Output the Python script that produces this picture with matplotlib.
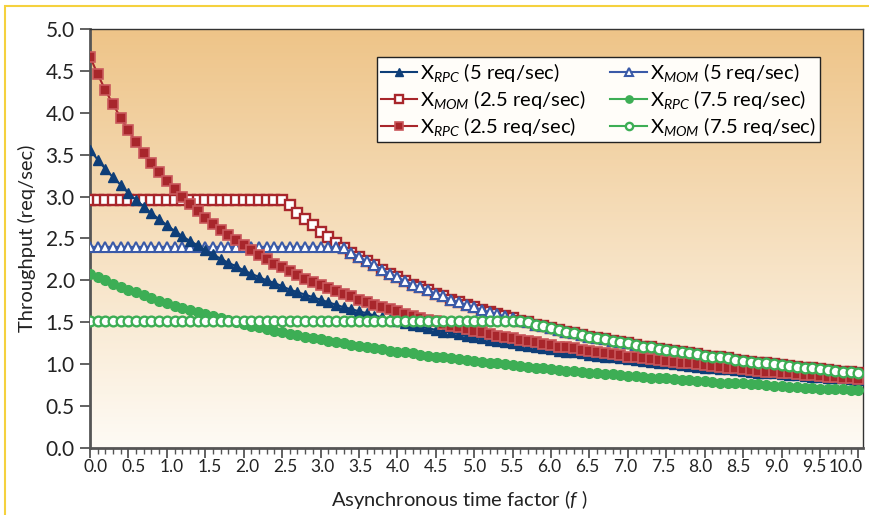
import numpy as np
import matplotlib
matplotlib.use('Agg')
import matplotlib.pyplot as plt
from matplotlib.patches import Rectangle

plt.rcParams['font.family'] = ['Lato', 'DejaVu Sans']
plt.rcParams['mathtext.fontset'] = 'custom'
plt.rcParams['mathtext.rm'] = 'Lato'
plt.rcParams['mathtext.it'] = 'Lato:italic'

# asynchronous time factor f, 0.0 .. 10.0 in steps of 0.1
factor = np.linspace(0, 10, 101)
xtick_vals = np.arange(0, 10.01, 0.5)

# throughput values (req/sec)
rpc_25 = [4.67, 4.46, 4.27, 4.10, 3.94, 3.79, 3.65, 3.52, 3.40, 3.29,
          3.19, 3.09, 2.99, 2.91, 2.83, 2.75, 2.67, 2.60, 2.54, 2.48,
          2.42, 2.36, 2.30, 2.25, 2.20, 2.16, 2.11, 2.07, 2.02, 1.98,
          1.95, 1.91, 1.87, 1.84, 1.81, 1.77, 1.74, 1.71, 1.68, 1.66,
          1.63, 1.60, 1.58, 1.55, 1.53, 1.51, 1.48, 1.46, 1.44, 1.42,
          1.40, 1.38, 1.36, 1.34, 1.33, 1.31, 1.29, 1.28, 1.26, 1.24,
          1.23, 1.21, 1.20, 1.19, 1.17, 1.16, 1.14, 1.13, 1.12, 1.11,
          1.09, 1.08, 1.07, 1.06, 1.05, 1.04, 1.03, 1.02, 1.01, 1.00,
          0.99, 0.98, 0.97, 0.96, 0.95, 0.94, 0.93, 0.92, 0.91, 0.91,
          0.90, 0.89, 0.88, 0.87, 0.87, 0.86, 0.85, 0.85, 0.84, 0.83,
          0.82]

rpc_5 = [3.56, 3.44, 3.33, 3.23, 3.14, 3.04, 2.96, 2.88, 2.80, 2.73,
         2.66, 2.59, 2.53, 2.47, 2.42, 2.36, 2.31, 2.26, 2.21, 2.17,
         2.12, 2.08, 2.04, 2.00, 1.97, 1.93, 1.89, 1.86, 1.83, 1.80,
         1.77, 1.74, 1.71, 1.68, 1.66, 1.63, 1.61, 1.58, 1.56, 1.54,
         1.51, 1.49, 1.47, 1.45, 1.43, 1.41, 1.39, 1.38, 1.36, 1.34,
         1.32, 1.31, 1.29, 1.28, 1.26, 1.25, 1.23, 1.22, 1.20, 1.19,
         1.18, 1.16, 1.15, 1.14, 1.13, 1.11, 1.10, 1.09, 1.08, 1.07,
         1.06, 1.05, 1.04, 1.03, 1.02, 1.01, 1.00, 0.99, 0.98, 0.97,
         0.96, 0.95, 0.94, 0.94, 0.93, 0.92, 0.91, 0.90, 0.90, 0.89,
         0.88, 0.87, 0.87, 0.86, 0.85, 0.85, 0.84, 0.83, 0.83, 0.82,
         0.81]

rpc_75 = [2.08, 2.04, 2.00, 1.96, 1.92, 1.89, 1.86, 1.82, 1.79, 1.76,
          1.73, 1.70, 1.67, 1.65, 1.62, 1.60, 1.57, 1.55, 1.53, 1.50,
          1.48, 1.46, 1.44, 1.42, 1.40, 1.38, 1.36, 1.35, 1.33, 1.31,
          1.30, 1.28, 1.26, 1.25, 1.23, 1.22, 1.21, 1.19, 1.18, 1.16,
          1.15, 1.14, 1.13, 1.11, 1.10, 1.09, 1.08, 1.07, 1.06, 1.05,
          1.04, 1.03, 1.02, 1.01, 1.00, 0.99, 0.98, 0.97, 0.96, 0.95,
          0.94, 0.93, 0.92, 0.92, 0.91, 0.90, 0.89, 0.88, 0.88, 0.87,
          0.86, 0.86, 0.85, 0.84, 0.83, 0.83, 0.82, 0.81, 0.81, 0.80,
          0.80, 0.79, 0.78, 0.78, 0.77, 0.77, 0.76, 0.76, 0.75, 0.74,
          0.74, 0.73, 0.73, 0.72, 0.72, 0.71, 0.71, 0.70, 0.70, 0.69,
          0.69]

mom_25 = [2.96, 2.96, 2.96, 2.96, 2.96, 2.96, 2.96, 2.96, 2.96, 2.96,
          2.96, 2.96, 2.96, 2.96, 2.96, 2.96, 2.96, 2.96, 2.96, 2.96,
          2.96, 2.96, 2.96, 2.96, 2.96, 2.96, 2.90, 2.81, 2.73, 2.66,
          2.58, 2.52, 2.45, 2.39, 2.33, 2.28, 2.23, 2.18, 2.13, 2.08,
          2.04, 1.99, 1.95, 1.92, 1.88, 1.84, 1.81, 1.77, 1.74, 1.71,
          1.68, 1.65, 1.62, 1.60, 1.57, 1.55, 1.52, 1.50, 1.47, 1.45,
          1.43, 1.41, 1.39, 1.37, 1.35, 1.33, 1.31, 1.30, 1.28, 1.26,
          1.25, 1.23, 1.21, 1.20, 1.18, 1.17, 1.16, 1.14, 1.13, 1.12,
          1.10, 1.09, 1.08, 1.07, 1.05, 1.04, 1.03, 1.02, 1.01, 1.00,
          0.99, 0.98, 0.97, 0.96, 0.95, 0.94, 0.93, 0.92, 0.91, 0.91,
          0.90]

mom_5 = [2.40, 2.40, 2.40, 2.40, 2.40, 2.40, 2.40, 2.40, 2.40, 2.40,
         2.40, 2.40, 2.40, 2.40, 2.40, 2.40, 2.40, 2.40, 2.40, 2.40,
         2.40, 2.40, 2.40, 2.40, 2.40, 2.40, 2.40, 2.40, 2.40, 2.40,
         2.40, 2.40, 2.40, 2.39, 2.33, 2.28, 2.23, 2.18, 2.13, 2.08,
         2.04, 1.99, 1.95, 1.92, 1.88, 1.84, 1.81, 1.77, 1.74, 1.71,
         1.68, 1.65, 1.62, 1.60, 1.57, 1.55, 1.52, 1.50, 1.47, 1.45,
         1.43, 1.41, 1.39, 1.37, 1.35, 1.33, 1.31, 1.30, 1.28, 1.26,
         1.25, 1.23, 1.21, 1.20, 1.18, 1.17, 1.16, 1.14, 1.13, 1.12,
         1.10, 1.09, 1.08, 1.07, 1.05, 1.04, 1.03, 1.02, 1.01, 1.00,
         0.99, 0.98, 0.97, 0.96, 0.95, 0.94, 0.93, 0.92, 0.91, 0.91,
         0.90]

mom_75 = [1.52, 1.52, 1.52, 1.52, 1.52, 1.52, 1.52, 1.52, 1.52, 1.52,
          1.52, 1.52, 1.52, 1.52, 1.52, 1.52, 1.52, 1.52, 1.52, 1.52,
          1.52, 1.52, 1.52, 1.52, 1.52, 1.52, 1.52, 1.52, 1.52, 1.52,
          1.52, 1.52, 1.52, 1.52, 1.52, 1.52, 1.52, 1.52, 1.52, 1.52,
          1.52, 1.52, 1.52, 1.52, 1.52, 1.52, 1.52, 1.52, 1.52, 1.52,
          1.52, 1.52, 1.52, 1.52, 1.52, 1.52, 1.52, 1.50, 1.47, 1.45,
          1.43, 1.41, 1.39, 1.37, 1.35, 1.33, 1.31, 1.30, 1.28, 1.26,
          1.25, 1.23, 1.21, 1.20, 1.18, 1.17, 1.16, 1.14, 1.13, 1.12,
          1.10, 1.09, 1.08, 1.07, 1.05, 1.04, 1.03, 1.02, 1.01, 1.00,
          0.99, 0.98, 0.97, 0.96, 0.95, 0.94, 0.93, 0.92, 0.91, 0.91,
          0.90]

RED = '#A8262B'
NAVY = '#0E3E78'
BLUE = '#3A5AA8'
GREEN = '#3DAE55'

fig = plt.figure(figsize=(8.69, 5.15), dpi=100)
ax = fig.add_axes([90 / 869, 1 - 448 / 515, 773 / 869, 419 / 515])

# warm gradient background inside the plot area
grad = np.linspace(0, 1, 256).reshape(-1, 1)
top = np.array([238, 196, 136]) / 255.0
bot = np.array([254, 251, 245]) / 255.0
img = top + (bot - top) * grad[:, :, None] * np.ones((1, 1, 3))
ax.imshow(img, extent=[0, 1, 0, 1], transform=ax.transAxes, aspect='auto',
          zorder=0, interpolation='bicubic')

l_mom25, = ax.plot(factor, mom_25, '-s', color=RED, mfc='white', mec=RED,
                   ms=7.5, mew=1.7, lw=1.5, zorder=3)
l_mom5, = ax.plot(factor, mom_5, '-^', color=BLUE, mfc='white', mec=BLUE,
                  ms=7, mew=1.5, lw=1.5, zorder=4)
l_rpc5, = ax.plot(factor, rpc_5, '-^', color=NAVY, mfc=NAVY, mec=NAVY,
                  ms=7, mew=1, lw=1.5, zorder=5)
l_rpc25, = ax.plot(factor, rpc_25, '-s', color=RED, mfc=RED, mec='#C9585C',
                   ms=7.5, mew=1.2, lw=1.5, zorder=6)
l_rpc75, = ax.plot(factor, rpc_75, '-o', color=GREEN, mfc=GREEN, mec=GREEN,
                   ms=7, mew=1, lw=1.5, zorder=7)
l_mom75, = ax.plot(factor, mom_75, '-o', color=GREEN, mfc='white', mec=GREEN,
                   ms=7, mew=1.7, lw=1.5, zorder=8)

ax.set_xlim(0, 10.06)
ax.set_ylim(0, 5)
ax.set_xticks(xtick_vals)
ax.set_xticks(factor, minor=True)
ax.set_yticks(np.arange(0, 5.01, 0.5))
ax.yaxis.set_major_formatter(matplotlib.ticker.FormatStrFormatter('%.1f'))
ax.tick_params(axis='both', which='major', direction='out', length=7,
               width=1.3, color='#555555', labelcolor='#222222')
ax.tick_params(axis='y', labelsize=15, pad=4)
ax.tick_params(axis='x', labelbottom=False)
ax.tick_params(axis='x', which='minor', direction='out', length=4,
               width=1, color='#555555')

# x tick labels drift from slightly right of their tick (left end) to
# slightly left of it (right end); the last one is flush with the frame
for v in xtick_vals[:-1]:
    dx_px = 6 - 12 * v / 9.5
    ax.annotate('%.1f' % v, xy=(v, 0), xycoords=('data', 'axes fraction'),
                xytext=(dx_px * 0.72, -8), textcoords='offset points',
                ha='center', va='top', fontsize=12.5, color='#222222',
                annotation_clip=False)
ax.annotate('%.1f' % xtick_vals[-1], xy=(1, 0), xycoords='axes fraction',
            xytext=(0, -8), textcoords='offset points', ha='right',
            va='top', fontsize=12.5, color='#222222', annotation_clip=False)

for side in ['left', 'bottom']:
    ax.spines[side].set_color('#555555')
    ax.spines[side].set_linewidth(2)
for side in ['top', 'right']:
    ax.spines[side].set_color('#333333')
    ax.spines[side].set_linewidth(1)

ax.set_xlabel(r'Asynchronous time factor ($f$ )', fontsize=14.5, color='#222222')
ax.xaxis.set_label_coords((459 - 90) / 773, -0.095)
ax.set_ylabel('Throughput (req/sec)', fontsize=14.5, color='#222222', labelpad=7)

handles = [l_rpc5, l_mom25, l_rpc25, l_mom5, l_rpc75, l_mom75]
labels = [r'X$_{\mathit{RPC}}$ (5 req/sec)',
          r'X$_{\mathit{MOM}}$ (2.5 req/sec)',
          r'X$_{\mathit{RPC}}$ (2.5 req/sec)',
          r'X$_{\mathit{MOM}}$ (5 req/sec)',
          r'X$_{\mathit{RPC}}$ (7.5 req/sec)',
          r'X$_{\mathit{MOM}}$ (7.5 req/sec)']
leg = ax.legend(handles, labels, ncol=2, loc='upper right',
                bbox_to_anchor=(0.957, 0.957), fontsize=14.5, frameon=True,
                fancybox=False, edgecolor='#222222', facecolor='#FFFDF9',
                framealpha=1, handlelength=1.8, handletextpad=0.15,
                columnspacing=1.2, labelspacing=0.2, borderpad=0.2,
                markerscale=0.75)
leg.get_frame().set_linewidth(1)
leg.set_zorder(10)

# thin yellow frame round the figure
fig.patches.append(Rectangle((5 / 869, -0.05), 1.1, (515 - 6) / 515 + 0.05,
                             transform=fig.transFigure, fill=False,
                             edgecolor='#F5D13E', lw=1.5, zorder=0))

fig.savefig('out.png', dpi=100)
